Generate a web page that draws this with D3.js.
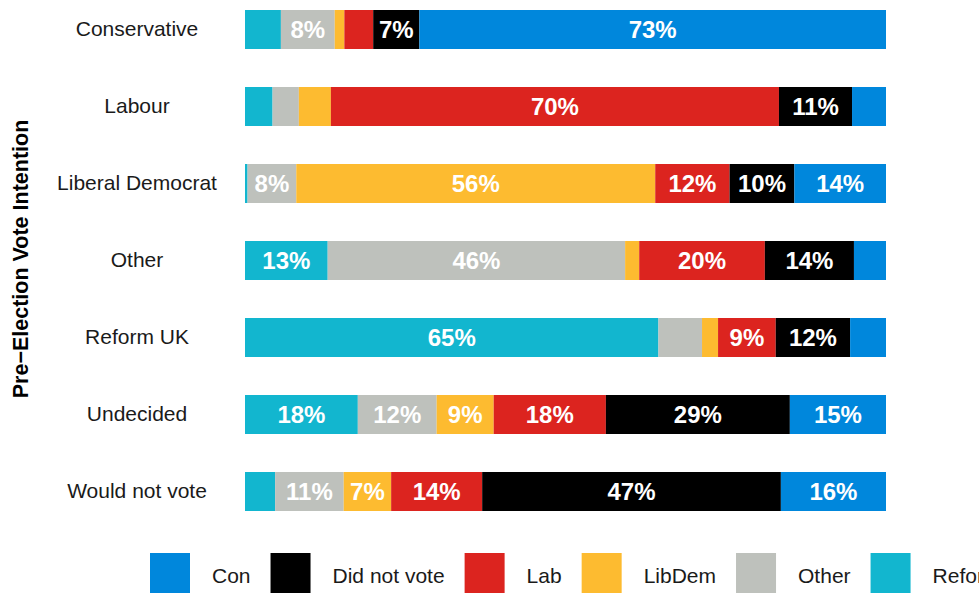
<!DOCTYPE html>
<html>
<head>
<meta charset="utf-8">
<script src="https://cdn.jsdelivr.net/npm/d3@7"></script>
<style>
  body { margin: 0; background: #fff; }
  svg { display: block; font-family: "Liberation Sans", Arial, sans-serif; }
</style>
</head>
<body>
<svg id="chart" width="979" height="594"></svg>
<script>
// rows (pre-election vote intention), top to bottom
var categories = ["Conservative", "Labour", "Liberal Democrat", "Other", "Reform UK", "Undecided", "Would not vote"];
// stack order left -> right
var series = ["Reform", "Other", "LibDem", "Lab", "Did not vote", "Con"];
var legendOrder = ["Con", "Did not vote", "Lab", "LibDem", "Other", "Reform"];

// percentages per row, in category order
var reform     = [5.6, 4.3, 0.4, 12.9, 64.5, 17.6, 4.7];
var other      = [8.4, 4.1, 7.6, 46.4, 6.8, 12.3, 10.7];
var libdem     = [1.5, 5.0, 56.0, 2.2, 2.5, 8.9, 7.4];
var lab        = [4.5, 69.9, 11.6, 19.6, 9.0, 17.5, 14.2];
var didNotVote = [7.2, 11.4, 10.1, 13.9, 11.6, 28.7, 46.6];
var con        = [72.8, 5.3, 14.3, 5.0, 5.6, 15.0, 16.4];

var colors = {
  "Con": "#0087dc",
  "Did not vote": "#000000",
  "Lab": "#dc241f",
  "LibDem": "#fdbb30",
  "Other": "#bec1bc",
  "Reform": "#12b6cf"
};

var table = categories.map(function(c, i) {
  return {
    cat: c,
    "Reform": reform[i],
    "Other": other[i],
    "LibDem": libdem[i],
    "Lab": lab[i],
    "Did not vote": didNotVote[i],
    "Con": con[i]
  };
});

var svg = d3.select("#chart");

var x = d3.scaleLinear().domain([0, 100]).range([245, 886]);
var y = d3.scaleBand().domain(categories).range([-9, 530])
  .paddingInner(0.4935).paddingOuter(0.24675);

var stacked = d3.stack().keys(series)(table);

var layers = svg.append("g").selectAll("g")
  .data(stacked)
  .enter().append("g")
  .attr("fill", function(d) { return colors[d.key]; });

layers.selectAll("rect")
  .data(function(d) { return d; })
  .enter().append("rect")
  .attr("x", function(d) { return x(d[0]); })
  .attr("width", function(d) { return x(d[1]) - x(d[0]); })
  .attr("y", function(d) { return y(d.data.cat); })
  .attr("height", y.bandwidth());

// value labels
layers.selectAll("text")
  .data(function(d) { return d.filter(function(p) { return p[1] - p[0] >= 7; }); })
  .enter().append("text")
  .attr("x", function(d) { return (x(d[0]) + x(d[1])) / 2; })
  .attr("y", function(d) { return y(d.data.cat) + y.bandwidth() / 2; })
  .attr("dy", "0.36em")
  .attr("text-anchor", "middle")
  .attr("fill", "#fff")
  .style("font-weight", "bold")
  .style("font-size", "24px")
  .text(function(d) { return Math.round(d[1] - d[0]) + "%"; });

// category axis
var yAxis = svg.append("g")
  .attr("transform", "translate(245,0)")
  .call(d3.axisLeft(y).tickSize(0));
yAxis.select(".domain").remove();
yAxis.selectAll("text")
  .attr("x", -108)
  .attr("text-anchor", "middle")
  .attr("fill", "#1a1a1a")
  .style("font-size", "21px")
  .style("font-family", "'Liberation Sans', Arial, sans-serif");

svg.append("text")
  .attr("transform", "translate(28,259) rotate(-90)")
  .attr("text-anchor", "middle")
  .style("font-weight", "bold")
  .style("font-size", "21.5px")
  .text("Pre\u2212Election Vote Intention");

// legend
var legend = svg.append("g");
var lx = 150;
legendOrder.forEach(function(k) {
  legend.append("rect")
    .attr("x", lx).attr("y", 553)
    .attr("width", 40).attr("height", 40)
    .attr("fill", colors[k]);
  var t = legend.append("text")
    .attr("x", lx + 62).attr("y", 575)
    .attr("dy", "0.36em")
    .attr("fill", "#1a1a1a")
    .style("font-size", "21px")
    .text(k);
  lx += 62 + t.node().getComputedTextLength() + 20;
});
</script>
</body>
</html>
